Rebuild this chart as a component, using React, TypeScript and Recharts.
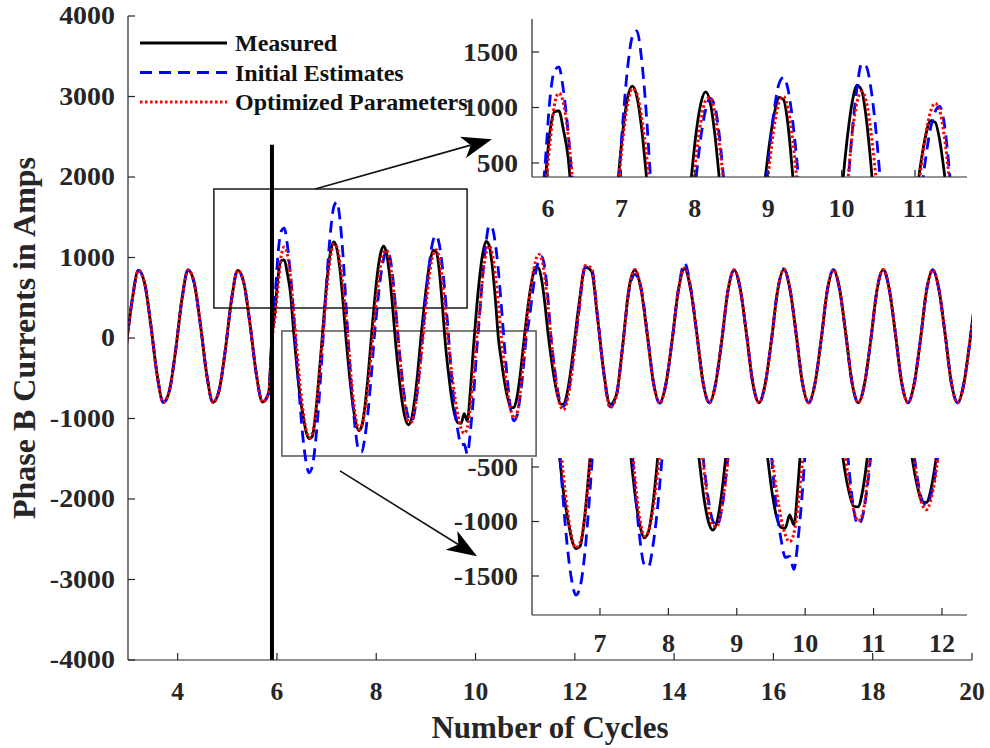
import {
  LineChart,
  Line,
  XAxis,
  YAxis,
  ReferenceLine,
  ReferenceArea,
  Legend,
  CartesianGrid,
} from "recharts";

const FONT = '"Liberation Serif", "Times New Roman", serif';
const INK = "#262626";
const TICK_LEN = 7;

const grid = (start: number, count: number, step: number) =>
  Array.from({ length: count }, (_, i) => Math.round((start + i * step) * 10000) / 10000);

// sample instants in cycles: 1/8 cycle before the fault, 1/16 through the transient, 1/8 after
const cycles = [
  ...grid(2.96, 24, 0.125),
  ...grid(5.8975, 98, 0.0625),
  ...grid(12.085, 65, 0.125),
];

const measured = [
  // steady state before the fault
  -130,
  475, 840, 680, 160, -450, -800, -650, -150,
  475, 845, 680, 160, -450, -800, -650, -150,
  475, 840, 680, 160, -450, -795, -680,
  // transient
  0, 330,
  760, 960, 970, 800, 560, 90, -330, -700, -950, -1160, -1250, -1225, -980, -560, -100, 380,
  805, 1090, 1193, 1100, 830, 420, -50, -455, -800, -1040, -1150, -1090, -850, -475, -20, 420,
  795, 1045, 1140, 1045, 760, 350, -110, -485, -795, -1000, -1078, -1005, -775, -430, -10, 365,
  700, 950, 1090, 1070, 825, 380, -105, -460, -760, -965, -1055, -1060, -940, -1030, -640, -100,
  375, 770, 1060, 1200, 1155, 905, 500, 0, -290, -550, -745, -860, -866, -735, -470, -120,
  225, 525, 755, 880, 868, 710, 420, 60, -240, -500, -697, -820, -825, -715, -495, -205,
  // back to steady state
  425, 880, 830, 240, -435, -825, -710, -120,
  590, 845, 600, 40, -560, -805, -570, -30,
  590, 860, 600, 40, -560, -805, -570, -30,
  590, 845, 600, 40, -560, -805, -570, -30,
  590, 850, 600, 40, -560, -805, -570, -30,
  590, 845, 600, 40, -560, -805, -570, -30,
  590, 850, 600, 40, -560, -805, -570, -30,
  590, 845, 600, 40, -560, -805, -570, -30,
  590,
];

const initialEstimates = [
  -130,
  475, 840, 680, 160, -450, -800, -650, -150,
  475, 845, 680, 160, -450, -800, -650, -150,
  475, 840, 680, 160, -450, -795, -680,
  0, 480,
  1050, 1325, 1365, 1155, 790, 300, -250, -785, -1230, -1535, -1675, -1600, -1325, -880, -315, 305,
  895, 1360, 1635, 1690, 1450, 985, 355, -265, -770, -1170, -1395, -1415, -1230, -915, -490, 0,
  400, 745, 980, 1083, 1010, 745, 325, -125, -495, -800, -990, -1038, -915, -625, -230, 220,
  655, 995, 1215, 1272, 1155, 870, 470, 0, -510, -905, -1165, -1330, -1320, -1440, -1155, -720,
  -165, 305, 805, 1180, 1395, 1370, 1180, 840, 380, -115, -560, -890, -1028, -965, -735, -395,
  10, 245, 555, 810, 960, 1010, 860, 485, -5, -350, -630, -805, -848, -765, -580, -300,
  350, 880, 860, 255, -440, -855, -720, -120,
  560, 790, 620, 50, -560, -810, -570, -30,
  600, 930, 620, 40, -560, -805, -570, -30,
  590, 850, 600, 40, -560, -805, -570, -30,
  590, 860, 600, 40, -560, -805, -570, -30,
  590, 850, 600, 40, -560, -805, -570, -30,
  590, 855, 600, 40, -560, -805, -570, -30,
  590, 845, 600, 40, -560, -805, -570, -30,
  590,
];

const optimizedParams = [
  -130,
  475, 840, 680, 160, -450, -800, -650, -150,
  475, 845, 680, 160, -450, -800, -650, -150,
  475, 840, 680, 160, -450, -795, -680,
  -50, 250,
  650, 1015, 1130, 1040, 765, 345, -120, -540, -890, -1135, -1240, -1190, -975, -610, -170, 305,
  730, 1035, 1170, 1125, 925, 615, 220, -230, -675, -985, -1135, -1090, -900, -600, -215, 200,
  585, 885, 1065, 1090, 955, 670, 290, -140, -540, -860, -1040, -1045, -900, -625, -270, 130,
  525, 845, 1045, 1097, 980, 700, 300, -110, -440, -735, -970, -1125, -1185, -1110, -845, -455,
  -5, 345, 780, 1050, 1145, 1055, 795, 420, -5, -370, -685, -895, -995, -940, -690, -295,
  130, 480, 765, 960, 1038, 975, 745, 400, -10, -365, -660, -845, -892, -805, -610, -315,
  355, 900, 870, 240, -440, -865, -725, -125,
  590, 850, 605, 40, -560, -810, -570, -30,
  590, 870, 600, 40, -560, -805, -570, -30,
  590, 845, 600, 40, -560, -805, -570, -30,
  590, 855, 600, 40, -560, -805, -570, -30,
  590, 845, 600, 40, -560, -805, -570, -30,
  590, 850, 600, 40, -560, -805, -570, -30,
  590, 845, 600, 40, -560, -805, -570, -30,
  590,
];

const mainXTicks = [4, 6, 8, 10, 12, 14, 16, 18, 20];
const mainYTicks = [-4000, -3000, -2000, -1000, 0, 1000, 2000, 3000, 4000];
const upperXTicks = [6, 7, 8, 9, 10, 11];
const upperYTicks = [500, 1000, 1500];
const lowerXTicks = [7, 8, 9, 10, 11, 12];
const lowerYTicks = [-1500, -1000, -500];

const rows = cycles.map((x, i) => ({
  x,
  measured: measured[i],
  initial: initialEstimates[i],
  optimized: optimizedParams[i],
}));

const series = [
  { key: "measured", name: "Measured", color: "#000000", width: 2.8, dash: undefined },
  { key: "initial", name: "Initial Estimates", color: "#0000ff", width: 2.8, dash: "12 7" },
  { key: "optimized", name: "Optimized Parameters", color: "#ff0000", width: 3, dash: "2.5 2.5" },
];

type TickProps = { x: number; y: number; payload: { value: number } };

const textProps = (fontSize: number) => ({
  fontFamily: FONT,
  fontWeight: "bold" as const,
  fontSize,
  fill: INK,
});

// label under the axis, mark pointing into the plot
const bottomTick = (fontSize: number, gap: number) => ({ x, y, payload }: TickProps) => (
  <g>
    <line x1={x} x2={x} y1={y - gap} y2={y - gap - TICK_LEN} stroke={INK} strokeWidth={1.2} />
    <text x={x} y={y + fontSize * 0.68} textAnchor="middle" {...textProps(fontSize)}>
      {payload.value}
    </text>
  </g>
);

const leftTick = (fontSize: number, gap: number, stretch: number) => ({ x, y, payload }: TickProps) => (
  <g>
    <line x1={x + gap} x2={x + gap + TICK_LEN} y1={y} y2={y} stroke={INK} strokeWidth={1.2} />
    <text
      transform={`translate(${x},${y + fontSize * 0.34}) scale(${stretch},1)`}
      textAnchor="end"
      {...textProps(fontSize)}
    >
      {payload.value}
    </text>
  </g>
);

const topMark = ({ x, y }: TickProps) => (
  <line x1={x} x2={x} y1={y} y2={y + TICK_LEN} stroke={INK} strokeWidth={1.2} />
);

const rightMark = ({ x, y }: TickProps) => (
  <line x1={x} x2={x - TICK_LEN} y1={y} y2={y} stroke={INK} strokeWidth={1.2} />
);

const axisLine = { stroke: INK, strokeWidth: 1.2 };

// top and right edges of the box, ticks only
const boxAxes = (
  xDomain: [number, number],
  yDomain: [number, number],
  xTicks: number[],
  yTicks: number[]
) => [
  <XAxis
    key="top"
    xAxisId="top"
    orientation="top"
    type="number"
    domain={xDomain}
    ticks={xTicks}
    allowDataOverflow
    interval={0}
    height={0}
    tickSize={0}
    tickMargin={0}
    tickLine={false}
    tick={topMark}
    axisLine={axisLine}
  />,
  <YAxis
    key="right"
    yAxisId="right"
    orientation="right"
    type="number"
    domain={yDomain}
    ticks={yTicks}
    allowDataOverflow
    interval={0}
    width={0}
    tickSize={0}
    tickMargin={0}
    tickLine={false}
    tick={rightMark}
    axisLine={axisLine}
  />,
];

const seriesLines = () =>
  series.map((s) => (
    <Line
      key={s.key}
      type="monotone"
      dataKey={s.key}
      name={s.name}
      stroke={s.color}
      strokeWidth={s.width}
      strokeDasharray={s.dash}
      dot={false}
      activeDot={false}
      isAnimationActive={false}
    />
  ));

const legendContent = () => (
  <svg width={340} height={90} style={{ display: "block" }}>
    {series.map((s, i) => {
      const cy = 15 + i * 29.5;
      return (
        <g key={s.key}>
          <line x1={2} x2={89} y1={cy} y2={cy} stroke={s.color} strokeWidth={s.width} strokeDasharray={s.dash} />
          <text x={97} y={cy + 8} fontFamily={FONT} fontWeight="bold" fontSize={24} fill="#111">
            {s.name}
          </text>
        </g>
      );
    })}
  </svg>
);

// callout arrow with a notched head
const Arrow = (props: any) => {
  const { x1, y1, x2, y2 } = props;
  const len = Math.hypot(x2 - x1, y2 - y1) || 1;
  const ux = (x2 - x1) / len;
  const uy = (y2 - y1) / len;
  const nx = -uy;
  const ny = ux;
  const L = 30;
  const W = 11;
  const notch = 8;
  const bx = x2 - ux * L;
  const by = y2 - uy * L;
  const mx = x2 - ux * (L - notch);
  const my = y2 - uy * (L - notch);
  const head = [
    [x2, y2],
    [bx + nx * W, by + ny * W],
    [mx, my],
    [bx - nx * W, by - ny * W],
  ]
    .map((p) => p.join(","))
    .join(" ");
  return (
    <g>
      <line x1={x1} y1={y1} x2={mx} y2={my} stroke="#111" strokeWidth={1.6} />
      <polygon points={head} fill="#000" />
    </g>
  );
};

const MAIN_X: [number, number] = [3, 20];
const MAIN_Y: [number, number] = [-4000, 4000];
const UPPER_X: [number, number] = [5.782, 11.708];
const UPPER_Y: [number, number] = [374, 1797];
const LOWER_X: [number, number] = [6.006, 12.366];
const LOWER_Y: [number, number] = [-1858, -417];

const titleStyle = (fontSize: number) => ({
  fontFamily: FONT,
  fontWeight: "bold",
  fontSize,
  fill: INK,
});

const MainChart = () => (
  <LineChart width={990} height={748} data={rows} margin={{ top: 16, right: 18, bottom: 0, left: 0 }}>
    <XAxis
      dataKey="x"
      type="number"
      domain={MAIN_X}
      ticks={mainXTicks}
      allowDataOverflow
      interval={0}
      height={88}
      tickSize={0}
      tickMargin={23}
      tickLine={false}
      tick={bottomTick(25.5, 23)}
      axisLine={axisLine}
      label={{ value: "Number of Cycles", position: "insideBottom", offset: 10, style: titleStyle(31) }}
    />
    <YAxis
      type="number"
      domain={MAIN_Y}
      ticks={mainYTicks}
      allowDataOverflow
      interval={0}
      width={128}
      tickSize={0}
      tickMargin={13}
      tickLine={false}
      tick={leftTick(24.5, 13, 1.14)}
      axisLine={axisLine}
      label={{
        value: "Phase B Currents in Amps",
        angle: -90,
        position: "insideLeft",
        offset: 24,
        style: { ...titleStyle(32), textAnchor: "middle" },
      }}
    />
    {boxAxes(MAIN_X, MAIN_Y, mainXTicks, mainYTicks)}
    {seriesLines()}
    <ReferenceArea x1={4.73} x2={9.83} y1={373} y2={1851} fill="none" stroke="#1a1a1a" strokeWidth={1.5} />
    <ReferenceArea x1={6.1} x2={11.22} y1={-1466} y2={87} fill="none" stroke="#555" strokeWidth={1.5} />
    <ReferenceLine
      segment={[
        { x: 5.9, y: -4000 },
        { x: 5.9, y: 2400 },
      ]}
      stroke="#000"
      strokeWidth={4}
    />
    {/* callouts from the zoom boxes to the insets */}
    <ReferenceLine
      segment={[
        { x: 6.77, y: 1850 },
        { x: 10.33, y: 2470 },
      ]}
      stroke="#111"
      shape={(p: any) => <Arrow {...p} />}
    />
    <ReferenceLine
      segment={[
        { x: 7.27, y: -1650 },
        { x: 10.03, y: -2710 },
      ]}
      stroke="#111"
      shape={(p: any) => <Arrow {...p} />}
    />
    <Legend
      layout="vertical"
      align="center"
      verticalAlign="middle"
      content={legendContent}
      wrapperStyle={{ left: 138, top: 28, width: 340, height: 90 }}
    />
  </LineChart>
);

const UpperInset = () => (
  <LineChart width={530} height={204} data={rows} margin={{ top: 1, right: 3, bottom: 0, left: 0 }}>
    <CartesianGrid fill="#fff" horizontal={false} vertical={false} />
    <XAxis
      dataKey="x"
      type="number"
      domain={UPPER_X}
      ticks={upperXTicks}
      allowDataOverflow
      interval={0}
      height={45}
      tickSize={0}
      tickMargin={22}
      tickLine={false}
      tick={bottomTick(26, 22)}
      axisLine={axisLine}
    />
    <YAxis
      type="number"
      domain={UPPER_Y}
      ticks={upperYTicks}
      allowDataOverflow
      interval={0}
      width={92}
      tickSize={0}
      tickMargin={14}
      tickLine={false}
      tick={leftTick(26, 14, 1.06)}
      axisLine={axisLine}
    />
    {boxAxes(UPPER_X, UPPER_Y, upperXTicks, upperYTicks)}
    {seriesLines()}
  </LineChart>
);

const LowerInset = () => (
  <LineChart width={530} height={206} data={rows} margin={{ top: 6, right: 3, bottom: 0, left: 0 }}>
    <CartesianGrid fill="#fff" horizontal={false} vertical={false} />
    <XAxis
      dataKey="x"
      type="number"
      domain={LOWER_X}
      ticks={lowerXTicks}
      allowDataOverflow
      interval={0}
      height={43}
      tickSize={0}
      tickMargin={19}
      tickLine={false}
      tick={bottomTick(26, 19)}
      axisLine={axisLine}
    />
    <YAxis
      type="number"
      domain={LOWER_Y}
      ticks={lowerYTicks}
      allowDataOverflow
      interval={0}
      width={92}
      tickSize={0}
      tickMargin={14}
      tickLine={false}
      tick={leftTick(26, 14, 1.06)}
      axisLine={axisLine}
    />
    {boxAxes(LOWER_X, LOWER_Y, lowerXTicks, lowerYTicks)}
    {seriesLines()}
  </LineChart>
);

export default function App() {
  return (
    <div
      style={{
        position: "absolute",
        left: 0,
        top: 0,
        width: 990,
        height: 748,
        background: "#fff",
        overflow: "hidden",
      }}
    >
      <div style={{ position: "absolute", left: 0, top: 0 }}>
        <MainChart />
      </div>
      <div style={{ position: "absolute", left: 440, top: 18 }}>
        <UpperInset />
      </div>
      <div style={{ position: "absolute", left: 440, top: 452 }}>
        <LowerInset />
      </div>
    </div>
  );
}
